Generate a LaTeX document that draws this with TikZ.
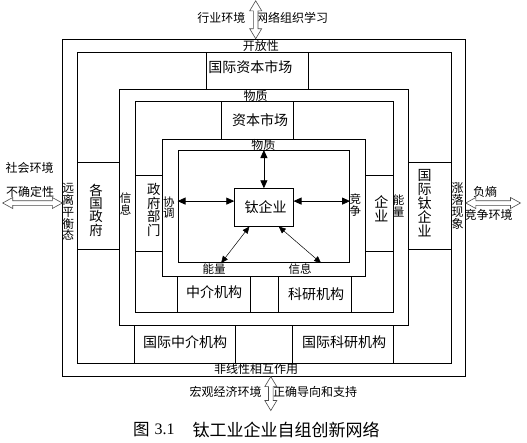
\documentclass[tikz,border=0pt]{standalone}
\usepackage{fontspec}
\setmainfont{Noto Sans CJK SC}
\newfontfamily\numfont{Liberation Serif}
\usetikzlibrary{arrows.meta,calc}

\begin{document}
\begin{tikzpicture}[x=1pt,y=-1pt]
	\tikzset{ frame/.style={draw, line width=0.8pt, inner sep=0pt, anchor=north west},
		lbl/.style={inner sep=0pt, font=\fontsize{12}{12}\selectfont},
		boxlbl/.style={inner sep=0pt, font=\fontsize{14}{14}\selectfont},
		vlbl/.style={inner sep=0pt, align=center, font=\fontsize{#1}{#1}\selectfont},
		vlbl/.default=12,
		inarrow/.style={line width=0.8pt, {Triangle[length=8pt,width=7pt]}-{Triangle[length=8pt,width=7pt]}},
		diarrow/.style={line width=0.5pt, {Triangle[length=7pt,width=6pt]}-{Triangle[length=7pt,width=6pt]}},
		bigarrow/.style={draw=black!70, line width=0.6pt, fill=white} }
	\useasboundingbox (0,0) rectangle (527,442);
	\newcommand{\hollowV}[2]{
		\draw[bigarrow] (#1) -- ($(#1)+(6,10)$) -- ($(#1)+(2.3,10)$) -- ($(#2)+(2.3,-10)$) -- ($(#2)+(6,-10)$)
			-- (#2) -- ($(#2)+(-6,-10)$) -- ($(#2)+(-2.3,-10)$) -- ($(#1)+(-2.3,10)$) -- ($(#1)+(-6,10)$) -- cycle;
	}
	\newcommand{\hollowH}[2]{
		\draw[bigarrow] (#1) -- ($(#1)+(10,-5.5)$) -- ($(#1)+(10,-2.3)$) -- ($(#2)+(-10,-2.3)$) -- ($(#2)+(-10,-5.5)$)
			-- (#2) -- ($(#2)+(-10,5.5)$) -- ($(#2)+(-10,2.3)$) -- ($(#1)+(10,2.3)$) -- ($(#1)+(10,5.5)$) -- cycle;
	}
	% nested frames and boxes
	\foreach \nm/\xa/\ya/\xb/\yb in {rA/62.3/38.7/465/375.8, rB/76.7/51.8/450.5/362.7, rC/119.4/89.2/407.8/325.3,
			rD/134.5/100.5/392.5/312.4, rE/162.3/138.8/364.5/275.5, rF/177.5/150/349.3/262.3,
			tie/234.3/188.3/292.7/225.7, bCapI/206/52/307.5/89.2, bCap/221/100.5/292.7/138.8,
			bGovI/76.7/162.3/119.4/249.3, bTiI/407.8/162.3/450.5/249.3, bGov/134.5/175/162.3/250.7,
			bEnt/364.5/175/392.5/250.7, bMed/177.3/275.5/249.5/312.4, bRes/277.5/275.5/350.8/312.4,
			bMedI/134/325.3/234.5/362.7, bResI/291.7/325.3/392.7/362.7} {
			\pgfmathsetmacro{\w}{\xb-\xa}
			\pgfmathsetmacro{\h}{\yb-\ya}
			\node[frame, minimum width=\w pt, minimum height=\h pt] (\nm) at (\xa,\ya) {};
		}
	% box texts
	\foreach \nm/\px/\py/\txt in {tCapI/250.3/67.3/国际资本市场, tCap/260/120/资本市场, tTie/265.5/207.3/钛企业,
			tMed/214.2/292/中介机构, tRes/316.2/294/科研机构, tMedI/185.2/342.2/国际中介机构, tResI/344/342.2/国际科研机构} {
			\node[boxlbl] (\nm) at (\px,\py) {\txt};
		}
	% small texts
	\foreach \nm/\px/\py/\txt in {sInd/221.4/17.5/行业环境, sNet/292.2/17.5/网络组织学习, sOpen/260.8/46.1/开放性,
			sMatA/255.7/95.9/物质, sMatB/263.3/145.2/物质, sSoc/29.7/168.3/社会环境, sUnc/30/191.7/不确定性,
			sNeg/485/191.7/负熵, sCom/488.5/215/竞争环境, sNon/256.2/368.7/非线性相互作用,
			sMac/225.6/391.6/宏观经济环境, sGui/315/391.6/正确导向和支持} {
			\node[lbl] (\nm) at (\px,\py) {\txt};
		}
	\node[inner sep=0pt, font=\fontsize{11.5}{11.5}\selectfont] (sEneB) at (214,269) {能量};
	\node[inner sep=0pt, font=\fontsize{11.5}{11.5}\selectfont] (sInfB) at (300,269) {信息};
	% vertical texts
	\node[vlbl={11.8}] (vFar) at (68.3,212) {远\\离\\平\\衡\\态};
	\node[vlbl={13.4}] (vGovI) at (96,210) {各\\国\\政\\府};
	\node[vlbl={11.5}] (vInf) at (125.5,204) {信\\息};
	\node[vlbl={13.4}] (vGov) at (153.8,210) {政\\府\\部\\门};
	\node[vlbl={11.5}] (vCoo) at (168.8,207.5) {协\\调};
	\node[vlbl={11.5}] (vCom) at (355.3,205) {竞\\争};
	\node[vlbl={14}] (vEnt) at (381.3,209) {企\\业};
	\node[vlbl={11.5}] (vEne) at (398.7,205.8) {能\\量};
	\node[vlbl={14}] (vTiI) at (424.5,203.3) {国\\际\\钛\\企\\业};
	\node[vlbl={12}] (vFlu) at (457.5,206) {涨\\落\\现\\象};
	% arrows round the titanium firm
	\coordinate (tieL) at ($(tie.west)+(0,-6.3)$);
	\coordinate (tieR) at ($(tie.east)+(0,-6.3)$);
	\coordinate (tieBL) at ($(tie.south)+(-14.5,0)$);
	\coordinate (tieBR) at ($(tie.south)+(14.8,0)$);
	\coordinate (fBL) at ($(rF.south)+(-42.7,0)$);
	\coordinate (fBR) at ($(rF.south)+(57.3,0)$);
	\draw[inarrow] (tie.north) -- (tie.north |- rF.north);
	\draw[inarrow] (tieL) -- (tieL -| rF.west);
	\draw[inarrow] (tieR) -- (tieR -| rF.east);
	\draw[diarrow] (tieBL) -- (fBL);
	\draw[diarrow] (tieBR) -- (fBR);
	% environment arrows
	\coordinate (aTop) at (255.7,0.8);
	\coordinate (aBot) at (270.8,410.5);
	\coordinate (aLeft) at (2.7,203);
	\coordinate (aRight) at (520.5,203);
	\hollowV{aTop}{aTop |- rA.north}
	\hollowV{aBot |- rA.south}{aBot}
	\hollowH{aLeft}{aLeft -| rA.west}
	\hollowH{aRight -| rA.east}{aRight}
	% caption
	\node[inner sep=0pt, font=\fontsize{16.5}{16.5}\selectfont] (cFig) at (141.3,429.6) {图};
	\node[inner sep=0pt, font=\numfont\fontsize{16}{16}\selectfont] (cNum) at (164.5,429.6) {3.1};
	\node[inner sep=0pt, font=\fontsize{17}{17}\selectfont] (cTxt) at (286,429.6) {钛工业企业自组创新网络};
\end{tikzpicture}
\end{document}
